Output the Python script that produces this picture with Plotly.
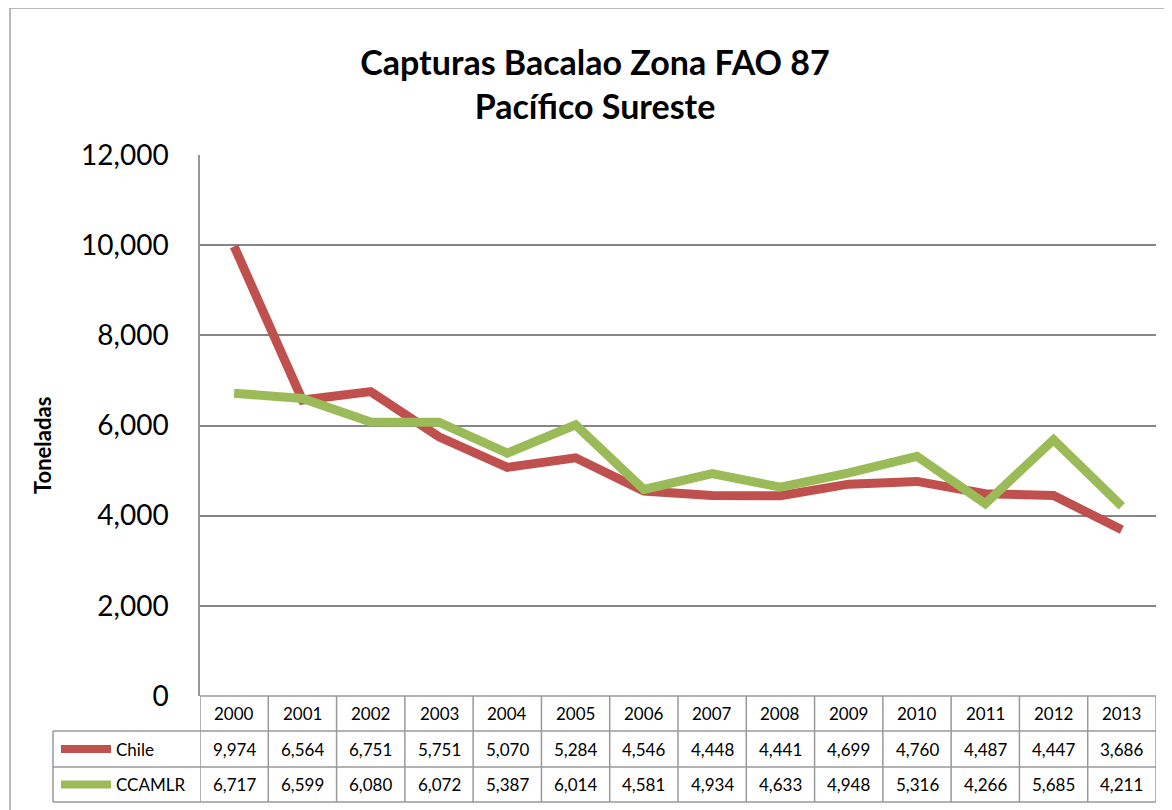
import plotly.graph_objects as go

years = ["2000", "2001", "2002", "2003", "2004", "2005", "2006", "2007",
         "2008", "2009", "2010", "2011", "2012", "2013"]
chile = [9974, 6564, 6751, 5751, 5070, 5284, 4546, 4448, 4441, 4699, 4760, 4487, 4447, 3686]
ccamlr = [6717, 6599, 6080, 6072, 5387, 6014, 4581, 4934, 4633, 4948, 5316, 4266, 5685, 4211]
series_names = ["Chile", "CCAMLR"]
series_colors = ["#C0504D", "#9BBB59"]
y_ticks = [0, 2000, 4000, 6000, 8000, 10000, 12000]

FONT = "Lato"
W, H = 1172, 810
OFF = 8  # page body margin offset
S_L, S_R, S_T, S_B = 200, 1156, 155, 696
L = S_L - OFF
T = S_T - OFF
R = W - (S_R - OFF)
B = H - (S_B - OFF)
plot_h = H - T - B
plot_w = W - L - R


def py(pix):
    return (S_B - pix) / plot_h


def px(pix):
    return (pix - S_L) / plot_w


fig = go.Figure()
for name, vals, col in zip(series_names, [chile, ccamlr], series_colors):
    fig.add_trace(go.Scatter(x=list(range(len(years))), y=vals, mode="lines",
                             name=name, line=dict(color=col, width=9),
                             showlegend=False))

grid_col = "#999999"
shapes = []
annotations = []
n = len(years)
row_y = [696, 731, 767, 802]
shapes.append(dict(type="line", xref="x", yref="paper", x0=-0.5, x1=n - 0.5,
                   y0=py(row_y[0]), y1=py(row_y[0]), line=dict(color=grid_col, width=1.5)))
for ry in row_y[1:]:
    shapes.append(dict(type="line", xref="paper", yref="paper", x0=px(53), x1=1,
                       y0=py(ry), y1=py(ry), line=dict(color=grid_col, width=1.5)))
for i in range(n + 1):
    shapes.append(dict(type="line", xref="x", yref="paper", x0=i - 0.5, x1=i - 0.5,
                       y0=py(row_y[0]), y1=py(row_y[3]), line=dict(color=grid_col, width=1.5)))
shapes.append(dict(type="line", xref="paper", yref="paper", x0=px(53), x1=px(53),
                   y0=py(row_y[1]), y1=py(row_y[3]), line=dict(color=grid_col, width=1.5)))
# outer chart border (left, top)
shapes.append(dict(type="line", xref="paper", yref="paper", x0=px(10), x1=px(10),
                   y0=py(8), y1=py(830), line=dict(color="#A0A0A0", width=1.5)))
shapes.append(dict(type="line", xref="paper", yref="paper", x0=px(10), x1=px(1190),
                   y0=py(8), y1=py(8), line=dict(color="#A0A0A0", width=1.5)))

TF = 17
for i, yr in enumerate(years):
    annotations.append(dict(x=i, y=py((row_y[0] + row_y[1]) / 2), xref="x", yref="paper",
                            text=yr, showarrow=False, xanchor="center", yanchor="middle",
                            font=dict(family=FONT, size=TF, color="#000")))
for r, (name, vals, col) in enumerate(zip(series_names, [chile, ccamlr], series_colors)):
    yc = py((row_y[r + 1] + row_y[r + 2]) / 2)
    shapes.append(dict(type="line", xref="paper", yref="paper", x0=px(61), x1=px(111),
                       y0=yc, y1=yc, line=dict(color=col, width=8)))
    annotations.append(dict(x=px(114), y=yc, xref="paper", yref="paper", text=name,
                            xanchor="left", yanchor="middle", showarrow=False,
                            font=dict(family=FONT, size=TF, color="#000")))
    for i, v in enumerate(vals):
        annotations.append(dict(x=i, y=yc, xref="x", yref="paper", text=f"{v:,}",
                                xanchor="center", yanchor="middle", showarrow=False,
                                font=dict(family=FONT, size=TF, color="#000")))

annotations.append(dict(x=px(43), y=py(446), xref="paper", yref="paper", text="<b>Toneladas</b>",
                        textangle=-90, showarrow=False, xanchor="center", yanchor="middle",
                        font=dict(family=FONT, size=22, color="#000")))

fig.update_layout(
    width=W, height=H,
    margin=dict(l=L, r=R, t=T, b=B),
    paper_bgcolor="white", plot_bgcolor="white",
    title=dict(text="<b>Capturas Bacalao Zona FAO 87<br>Pacífico Sureste</b>",
               x=(595 - OFF) / W, xanchor="center",
               y=1 - (75 - OFF) / H, yanchor="middle",
               font=dict(family=FONT, size=34, color="#000")),
    xaxis=dict(range=[-0.5, n - 0.5], showticklabels=False, showgrid=False,
               zeroline=False, showline=False, ticks=""),
    yaxis=dict(range=[0, 12000], tickvals=y_ticks, tickformat=",d",
               showgrid=True, gridcolor="#868686", gridwidth=1.5,
               zeroline=False, showline=True, linecolor="#999999", linewidth=1.5,
               ticks="", ticklabelstandoff=24,
               tickfont=dict(family=FONT, size=28, color="#000")),
    shapes=shapes, annotations=annotations,
)
fig.write_html("out.html")
